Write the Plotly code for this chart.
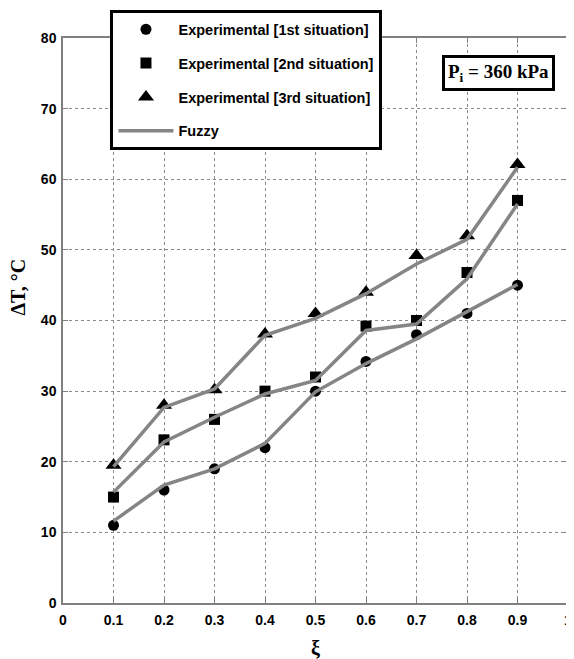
import plotly.graph_objects as go

xi = [0.1, 0.2, 0.3, 0.4, 0.5, 0.6, 0.7, 0.8, 0.9]

exp_1st = [11, 16, 19, 22, 30, 34.2, 38, 41, 45]
exp_2nd = [15, 23.1, 26, 30, 32, 39.2, 40, 46.8, 57]
exp_3rd = [19.5, 28, 30.2, 38.1, 41, 44, 49.2, 52, 62.1]

fuzzy_1st = [11.6, 16.7, 19, 22.6, 29.9, 33.9, 37.4, 41.2, 45.1]
fuzzy_2nd = [15.7, 22.8, 26.3, 29.6, 31.5, 38.6, 39.5, 45.9, 56.5]
fuzzy_3rd = [19.3, 27.7, 30.3, 37.9, 40.3, 43.8, 48, 51.5, 61.7]

x_ticks = [0, 0.1, 0.2, 0.3, 0.4, 0.5, 0.6, 0.7, 0.8, 0.9, 1]
x_tick_text = ["0", "0.1", "0.2", "0.3", "0.4", "0.5", "0.6", "0.7", "0.8", "0.9", "1"]
y_ticks = [0, 10, 20, 30, 40, 50, 60, 70, 80]

fig = go.Figure()

markers = [
    (exp_1st, "circle", "Experimental [1st situation]", "g1", 11),
    (exp_2nd, "square", "Experimental [2nd situation]", "g2", 11),
    (exp_3rd, "triangle-up", "Experimental [3rd situation]", "g3", 14),
]
for vals, sym, name, grp, sz in markers:
    fig.add_trace(go.Scatter(
        x=xi, y=vals, mode="markers", name=name, legendgroup=grp,
        marker=dict(symbol=sym, size=sz, color="black", line=dict(width=0)),
    ))

for i, vals in enumerate([fuzzy_1st, fuzzy_2nd, fuzzy_3rd]):
    fig.add_trace(go.Scatter(
        x=xi, y=vals, mode="lines", name="Fuzzy", legendgroup="fuzzy",
        showlegend=(i == 0),
        line=dict(color="#858585", width=3.5),
    ))

axis_common = dict(
    showline=True, linecolor="#808080", linewidth=1.5, mirror="ticks",
    ticks="inside", ticklen=5, tickcolor="#808080", tickwidth=1,
    showgrid=True, gridcolor="#8a8a8a", griddash="dot", gridwidth=1,
    zeroline=False,
    tickfont=dict(family="Liberation Sans, Arial, sans-serif", size=14, color="black", weight="bold"),
)

fig.update_xaxes(range=[0, 1], tickvals=x_ticks, ticktext=x_tick_text, ticklabelstandoff=3,
                 ticklabeloverflow="allow", **axis_common)
fig.update_yaxes(range=[0, 80], tickvals=y_ticks, ticklabelstandoff=2, **axis_common)

fig.update_layout(
    width=566, height=651,
    margin=dict(l=55, r=2, t=30, b=56),
    plot_bgcolor="white", paper_bgcolor="white",
    showlegend=True,
    legend=dict(
        x=0.094, y=1.049, xanchor="left", yanchor="top",
        bgcolor="white", bordercolor="black", borderwidth=3,
        font=dict(family="Liberation Sans, Arial, sans-serif", size=14.5, color="black", weight="bold"),
        itemwidth=55, traceorder="grouped", tracegroupgap=12,
    ),
    annotations=[
        dict(
            text="P<sub>i</sub> = 360 kPa", x=0.8625, y=0.9376, xref="paper", yref="paper",
            showarrow=False, xanchor="center", yanchor="middle",
            font=dict(family="Liberation Serif, Times New Roman, serif", size=19, color="black", weight="bold"),
            bordercolor="black", borderwidth=3, borderpad=3, bgcolor="white",
        ),
        dict(
            text="ΔT, °C", x=-0.0884, y=0.559, xref="paper", yref="paper",
            showarrow=False, textangle=-90, xanchor="center", yanchor="middle",
            font=dict(family="Liberation Serif, Times New Roman, serif", size=20, color="black", weight="bold"),
        ),
        dict(
            text="ξ", x=0.5, y=-0.079, xref="paper", yref="paper",
            showarrow=False, xanchor="center", yanchor="middle",
            font=dict(family="Liberation Serif, Times New Roman, serif", size=20, color="black", weight="bold"),
        ),
    ],
)

fig.write_html("out.html")
